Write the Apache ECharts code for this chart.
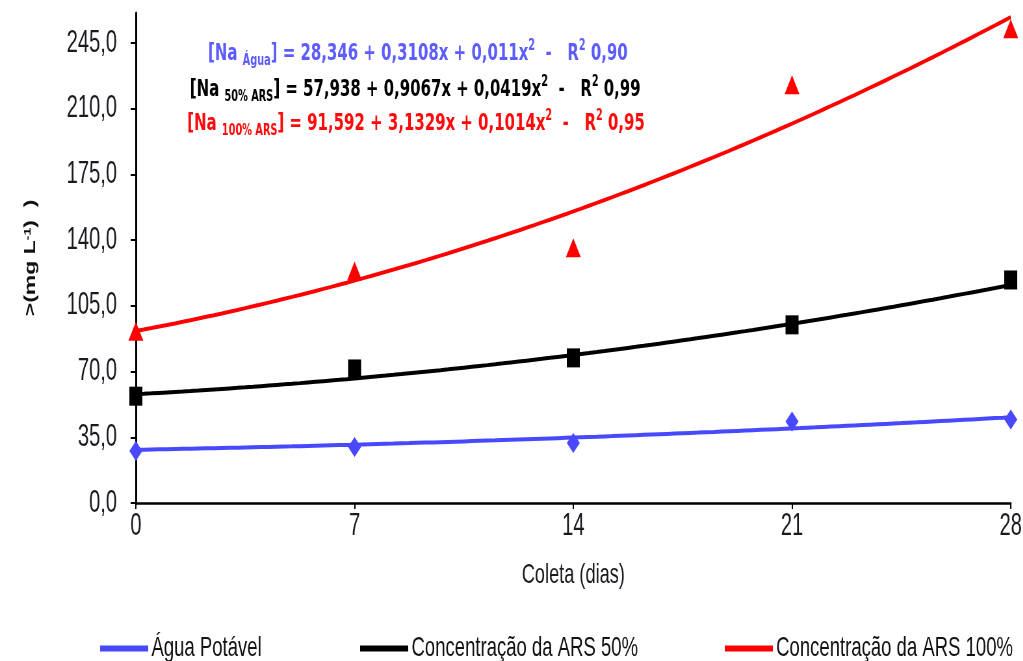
<!DOCTYPE html>
<html>
<head>
<meta charset="utf-8">
<script src="https://cdn.jsdelivr.net/npm/echarts@6/dist/echarts.min.js"></script>
<style>
  html, body { margin: 0; padding: 0; background: #fff; overflow: hidden; width: 1023px; height: 661px; }
  /* the whole figure is drawn wide and squeezed horizontally to its narrow look */
  #chart { width: 1574px; height: 661px; transform: scaleX(0.65); transform-origin: 0 0; }
</style>
</head>
<body>
<div id="chart"></div>
<script>
// ---- data ----
const days = [0, 7, 14, 21, 28];
const yTicks = [0, 35, 70, 105, 140, 175, 210, 245];
const seriesNames = ['Água Potável', 'Concentração da ARS 50%', 'Concentração da ARS 100%'];
const aguaPotavel = [27.7, 29.8, 32.0, 43.4, 44.5];
const ars50 = [56.9, 71.4, 77.3, 94.9, 118.8];
const ars100 = [91.5, 123.6, 135.9, 222.8, 252.6];
// quadratic trend y = a + b·x + c·x² : [a, b, c]
const coefAgua = [28.346, 0.3108, 0.011];
const coef50 = [57.938, 0.9067, 0.0419];
const coef100 = [91.592, 3.1329, 0.1014];
const rSquared = [0.90, 0.99, 0.95];
const subLabels = ['Água', '50% ARS', '100% ARS'];

// ---- styling ----
const lineColors = ['#4848ff', '#000000', '#ff0000'];
const eqColors = ['#5c5cff', '#000000', '#ff0a0a'];
const symbols = ['diamond', 'rect', 'triangle'];
const symbolSizes = [[20, 20], [20, 19], [23, 19]];
const legendLeft = [149, 549, 1110];
const eqPos = [[320, 54], [292, 90], [288, 124]];

const allObs = [aguaPotavel, ars50, ars100];
const allCoef = [coefAgua, coef50, coef100];

const comma = v => String(v).replace('.', ',');
const trendPoints = c => {
  const pts = [];
  for (let x = days[0]; x <= days[days.length - 1] + 1e-9; x += 0.25) {
    pts.push([x, c[0] + c[1] * x + c[2] * x * x]);
  }
  return pts;
};

const series = [];
seriesNames.forEach((name, i) => {
  series.push({
    name: name,
    type: 'line',
    data: trendPoints(allCoef[i]),
    showSymbol: false,
    smooth: false,
    lineStyle: { width: 4, color: lineColors[i] },
    itemStyle: { color: lineColors[i] },
    z: 2
  });
});
seriesNames.forEach((name, i) => {
  series.push({
    name: name + ' (obs.)',
    type: 'scatter',
    data: days.map((d, k) => [d, allObs[i][k]]),
    symbol: symbols[i],
    symbolSize: symbolSizes[i],
    itemStyle: { color: lineColors[i], opacity: 1 },
    z: 3
  });
});

const eqFamily = 'DejaVu Sans';
const graphics = allCoef.map((c, i) => ({
  type: 'text',
  left: eqPos[i][0],
  top: eqPos[i][1] - 15,
  style: {
    text: '[Na {sub|' + subLabels[i] + '}] = ' + comma(c[0]) + ' + ' + comma(c[1]) + 'x + ' +
          comma(c[2]) + 'x{sup|2}  -   R{sup|2} ' + comma(rSquared[i].toFixed(2)),
    fill: eqColors[i],
    fontSize: 23,
    lineHeight: 30,
    fontFamily: eqFamily,
    fontWeight: 'bold',
    rich: {
      sub: { fontSize: 15, lineHeight: 15, verticalAlign: 'bottom', fill: eqColors[i], fontFamily: eqFamily, fontWeight: 'bold' },
      sup: { fontSize: 15, lineHeight: 15, verticalAlign: 'top', fill: eqColors[i], fontFamily: eqFamily, fontWeight: 'bold' }
    }
  }
}));

const axisFont = { fontFamily: 'Liberation Sans', fontSize: 31, color: '#1a1a22' };

const option = {
  animation: false,
  backgroundColor: '#ffffff',
  grid: { left: 209, right: 19, top: 13, bottom: 158, containLabel: false, outerBoundsMode: 'none' },
  xAxis: {
    type: 'value',
    min: 0,
    max: 28,
    interval: 7,
    name: 'Coleta (dias)',
    nameLocation: 'middle',
    nameGap: 58,
    nameTextStyle: { fontFamily: 'Liberation Sans', fontSize: 28, color: '#1a1a22' },
    axisLine: { show: true, onZero: false, lineStyle: { color: '#000', width: 2.5 } },
    axisTick: { show: true, inside: false, length: 6, lineStyle: { color: '#000', width: 2 } },
    axisLabel: Object.assign({ margin: 8 }, axisFont),
    splitLine: { show: false }
  },
  yAxis: {
    type: 'value',
    min: 0,
    max: 261,
    interval: 35,
    name: '>(mg L{sup|-1})  )',
    nameLocation: 'middle',
    nameRotate: 90,
    nameGap: 150,
    nameTextStyle: {
      fontFamily: 'Liberation Sans', fontSize: 23, fontWeight: 'bold', color: '#111',
      rich: { sup: { fontFamily: 'Liberation Sans', fontSize: 14, fontWeight: 'bold', verticalAlign: 'top', lineHeight: 14, color: '#111' } }
    },
    axisLine: { show: true, onZero: false, lineStyle: { color: '#000', width: 3 } },
    axisTick: { show: true, inside: false, length: 8, customValues: yTicks, lineStyle: { color: '#000', width: 2 } },
    axisLabel: Object.assign({
      margin: 29,
      customValues: yTicks,
      formatter: v => v.toFixed(1).replace('.', ',')
    }, axisFont),
    splitLine: { show: false }
  },
  legend: seriesNames.map((n, i) => ({
    data: [n],
    left: legendLeft[i],
    top: 629,
    icon: 'rect',
    itemWidth: 74,
    itemHeight: 6,
    itemGap: 0,
    selectedMode: false,
    textStyle: { fontFamily: 'Liberation Sans', fontSize: 28.5, color: '#111' }
  })),
  graphic: graphics,
  series: series
};

const chart = echarts.init(document.getElementById('chart'), null, { renderer: 'canvas' });
chart.setOption(option);
</script>
</body>
</html>
